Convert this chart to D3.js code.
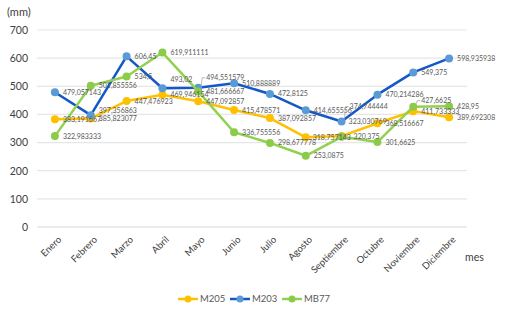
<!DOCTYPE html>
<html><head><meta charset="utf-8">
<script src="https://cdn.jsdelivr.net/npm/d3@7"></script>
<style>
html,body{margin:0;padding:0;background:#fff;}
svg{display:block;font-family:Lato,"Open Sans",sans-serif;}
</style></head>
<body><div id="chart"></div>
<script>
const months = ["Enero","Febrero","Marzo","Abril","Mayo","Junio","Julio","Agosto","Septiembre","Octubre","Noviembre","Diciembre"];
const seriesNames = ["M205","M203","MB77"];
const m205 = [383.191667,385.823077,447.476923,469.946154,447.092857,415.478571,387.092857,318.757143,323.030769,368.516667,411.733333,389.692308];
const m203 = [479.057143,397.356863,606.45,493.02,494.551579,510.888889,472.8125,414.655556,374.744444,470.214286,549.375,598.935938];
const mb77 = [322.983333,501.855556,534.5,619.911111,481.666667,336.755556,298.677778,253.0875,320.375,301.6625,427.6625,428.95];
const yTicks = [0,100,200,300,400,500,600,700];

const W=526,H=326;
const svg=d3.select("#chart").append("svg").attr("width",W).attr("height",H);
const x=d3.scaleBand().domain(months).range([37,467]);
const y=d3.scaleLinear().domain([0,700]).range([227,30]);
const cx=m=>x(m)+x.bandwidth()/2;

const fmt=v=>String(v).replace(".",",");

// gridlines
svg.append("g").selectAll("line").data(yTicks).join("line")
 .attr("x1",37).attr("x2",467).attr("y1",d=>y(d)).attr("y2",d=>y(d))
 .attr("stroke",d=>d===0?"#d9d9d9":"#e6e6e6").attr("stroke-width",1.2);

// y axis
const yAxis=d3.axisLeft(y).tickValues(yTicks).tickSize(0).tickPadding(9);
const gy=svg.append("g").attr("transform","translate(37,0)").call(yAxis);
gy.select(".domain").remove();
gy.selectAll("text").attr("font-size",10.5).attr("fill","#404040").attr("font-family","Lato,sans-serif");

// x axis
const xAxis=d3.axisBottom(x).tickSize(0);
const gx=svg.append("g").attr("transform","translate(0,227)").call(xAxis);
gx.select(".domain").remove();
gx.selectAll("text").attr("font-size",9.5).attr("fill","#404040")
 .attr("text-anchor","end").attr("dy",0)
 .attr("transform","translate(5,11) rotate(-45)").attr("font-family","Lato,sans-serif");

svg.append("text").attr("x",7).attr("y",16).attr("font-size",11).attr("fill","#404040").text("(mm)");
svg.append("text").attr("x",465).attr("y",261).attr("font-size",10.5).attr("fill","#404040").text("mes");

const series=[
 {name:seriesNames[0],vals:m205,line:"#FFC000",mark:"#FFC000"},
 {name:seriesNames[1],vals:m203,line:"#1458C8",mark:"#5B9BD5"},
 {name:seriesNames[2],vals:mb77,line:"#92D050",mark:"#8CCB4A"}
];

const line=d3.line().x((d,i)=>cx(months[i])).y(d=>y(d));
series.forEach(s=>{
 svg.append("path").datum(s.vals).attr("d",line).attr("fill","none")
  .attr("stroke",s.line).attr("stroke-width",2.5).attr("stroke-linejoin","round");
 svg.append("g").selectAll("circle").data(s.vals).join("circle")
  .attr("cx",(d,i)=>cx(months[i])).attr("cy",d=>y(d)).attr("r",4).attr("fill",s.mark);
});

// label adjustments (layout only), keyed by series/month
const labelDy={"M203-Febrero":-5,"M203-Abril":-9,"M203-Mayo":-10,"M203-Septiembre":-15,"M205-Septiembre":-15,"MB77-Noviembre":-6};
const labelDx={"M205-Septiembre":-1,"MB77-Septiembre":4,"M205-Agosto":-1};
const leaders=["M203-Mayo","M203-Septiembre","MB77-Noviembre"];

// labels (on top)
const lab=svg.append("g").attr("font-size",7).attr("fill","#595959");
series.forEach(s=>{
 months.forEach((m,i)=>{
  const key=s.name+"-"+m;
  const dy=labelDy[key]||0;
  const px=cx(m), py=y(s.vals[i]);
  const lx=px+8+(labelDx[key]||0);
  lab.append("text").attr("x",lx).attr("y",py+dy).attr("dy","0.35em").text(fmt(s.vals[i]));
  if(leaders.includes(key)){
   lab.append("path").attr("d",`M${px+3},${py-3} L${px+4},${py+dy} L${px+7},${py+dy}`)
    .attr("fill","none").attr("stroke","#a6a6a6").attr("stroke-width",0.8);
  }
 });
});

// legend
const lg=svg.append("g").attr("font-size",9.5).attr("fill","#595959");
const lx0=[178,230,282];
series.forEach((s,i)=>{
 const g=lg.append("g").attr("transform",`translate(${lx0[i]},299)`);
 g.append("line").attr("x1",0).attr("x2",20).attr("stroke",s.line).attr("stroke-width",2.5);
 g.append("circle").attr("cx",10).attr("r",3.5).attr("fill",s.mark);
 g.append("text").attr("x",22).attr("dy","0.35em").text(s.name);
});
</script></body></html>
